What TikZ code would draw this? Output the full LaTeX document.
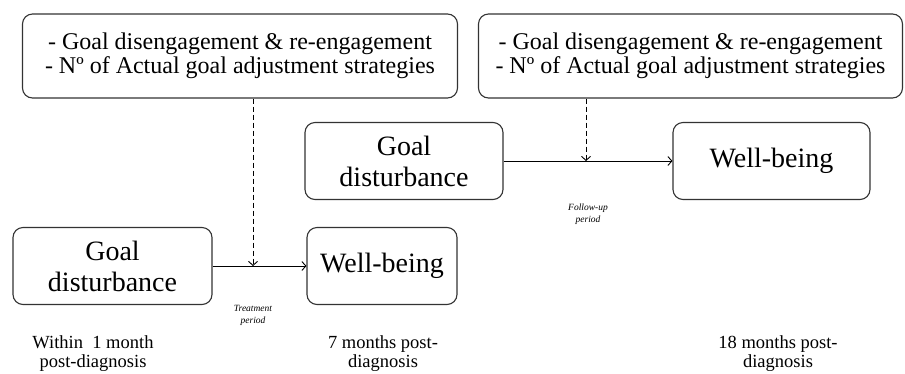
\documentclass[tikz,border=0pt]{standalone}
\usepackage{fontspec}
\newfontfamily\tnr{Liberation Serif}
\usetikzlibrary{arrows.meta}
\begin{document}
\begin{tikzpicture}[x=1pt,y=-1pt,
  box/.style={draw=black!80, line width=1.1pt, rounded corners=10pt, align=center, inner sep=0pt},
  topbox/.style={box, font=\tnr\fontsize{24}{24}\selectfont, minimum height=84pt},
  varbox/.style={box, font=\tnr\fontsize{28}{31}\selectfont, minimum height=77pt},
  conn/.style={-{Straight Barb[length=4pt,width=9pt]}, line width=0.9pt},
  mod/.style={-{Straight Barb[length=4pt,width=9pt]}, dash pattern=on 5pt off 3pt, line width=0.9pt},
  period/.style={font=\tnr\fontsize{9.5}{12}\selectfont\itshape, align=center},
  when/.style={font=\tnr\fontsize{18.5}{19}\selectfont, align=center}]
\useasboundingbox (0,0) rectangle (905,373);
\node[topbox, minimum width=435pt] (m1box) at (240,56) {- Goal disengagement \& re-engagement\\- Nº of Actual goal adjustment strategies};
\node[topbox, minimum width=424pt] (m2box) at (690.5,56) {- Goal disengagement \& re-engagement\\- Nº of Actual goal adjustment strategies};
\node[varbox, minimum width=199pt] (gd1) at (112.5,266) {Goal\\disturbance};
\node[varbox, minimum width=150pt] (wb1) at (382,266) {Well-being};
\node[varbox, minimum width=198pt] (gd2) at (404,161) {Goal\\disturbance};
\node[varbox, minimum width=197pt] (wb2) at (771.5,161) {Well-being};
\draw[conn] (gd1.east) -- (wb1.west);
\draw[conn] (gd2.east) -- (wb2.west);
\coordinate (p1) at (253,266);
\coordinate (p2) at (586,161);
\draw[mod] (m1box.south -| p1) -- (p1);
\draw[mod] (m2box.south -| p2) -- (p2);
\node[period] (t1) at (253,315) {Treatment\\period};
\node[period] (t2) at (588,214) {Follow-up\\period};
\node[when] (w1) at (93,354) {Within\ \ 1 month\\post-diagnosis};
\node[when] (w2) at (383,354) {7 months post-\\diagnosis};
\node[when] (w3) at (778,354) {18 months post-\\diagnosis};
\end{tikzpicture}
\end{document}
